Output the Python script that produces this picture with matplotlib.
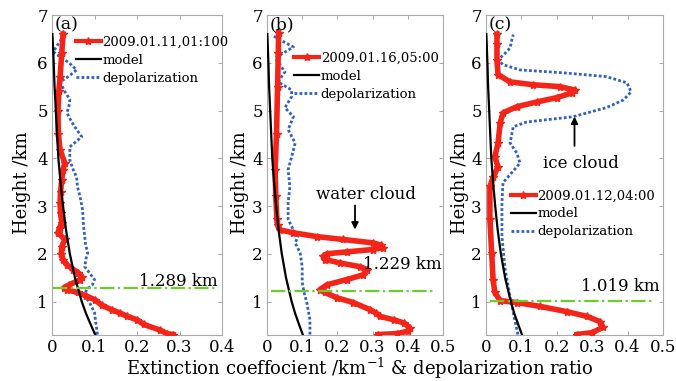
import matplotlib
matplotlib.use("Agg")
import matplotlib.pyplot as plt

plt.rcParams['font.family'] = ['DejaVu Serif']
plt.rcParams['mathtext.fontset'] = 'dejavuserif'

# ---------------- data ----------------
model_h = [0.3, 0.5, 0.75, 1.0, 1.5, 2.0, 2.5, 3.0, 3.5, 4.0, 4.5, 5.0, 5.5, 6.0, 6.6]
model_v = [0.102, 0.092, 0.080, 0.070, 0.054, 0.042, 0.033, 0.026, 0.020, 0.015, 0.012,
           0.009, 0.006, 0.004, 0.001]

# panel (a)
a_red_h = [0.31, 0.33, 0.40, 0.52, 0.62, 0.69, 0.76, 0.83, 0.92, 1.04, 1.12, 1.19, 1.25,
           1.29, 1.35, 1.45, 1.52, 1.60, 1.67, 1.77, 1.88, 2.00, 2.15, 2.30, 2.44, 2.55,
           2.65, 2.85, 3.07, 3.30, 3.55, 3.76, 3.90, 4.18, 4.50, 5.00, 5.40, 5.70, 6.20, 6.60]
a_red_v = [0.285, 0.27, 0.255, 0.216, 0.200, 0.177, 0.160, 0.140, 0.118, 0.100, 0.080, 0.060,
           0.035, 0.028, 0.040, 0.065, 0.070, 0.062, 0.050, 0.035, 0.026, 0.022, 0.023, 0.030,
           0.014, 0.018, 0.023, 0.020, 0.019, 0.020, 0.023, 0.026, 0.030, 0.019, 0.015, 0.014,
           0.016, 0.019, 0.023, 0.026]
a_dep_h = [0.31, 0.50, 0.77, 0.95, 1.13, 1.25, 1.35, 1.46, 1.60, 1.73, 1.90, 2.02, 2.20, 2.36,
           2.60, 2.92, 3.20, 3.40, 3.60, 3.76, 3.96, 4.24, 4.45, 4.60, 4.75, 4.95, 5.10, 5.23,
           5.40, 5.60, 5.72, 5.85, 6.00, 6.12, 6.23, 6.40, 6.59]
a_dep_v = [0.107, 0.104, 0.100, 0.090, 0.077, 0.081, 0.095, 0.100, 0.088, 0.077, 0.080, 0.084,
           0.079, 0.077, 0.074, 0.072, 0.066, 0.060, 0.058, 0.050, 0.042, 0.042, 0.070, 0.058,
           0.047, 0.035, 0.040, 0.042, 0.030, 0.019, 0.040, 0.058, 0.040, 0.020, 0.003, 0.015,
           0.030]
a_cloud_base = 1.289

# panel (b)
b_red_h = [0.31, 0.33, 0.38, 0.45, 0.55, 0.62, 0.69, 0.76, 0.83, 0.98, 1.08, 1.19, 1.25, 1.35,
           1.46, 1.56, 1.67, 1.73, 1.81, 1.88, 1.95, 2.00, 2.04, 2.09, 2.13, 2.18, 2.23, 2.30,
           2.36, 2.44, 2.50, 2.60, 2.72, 3.20, 3.76, 4.50, 5.50, 6.20, 6.63]
b_red_v = [0.315, 0.370, 0.400, 0.405, 0.390, 0.360, 0.320, 0.310, 0.293, 0.245, 0.198, 0.165,
           0.150, 0.170, 0.226, 0.273, 0.284, 0.264, 0.207, 0.165, 0.160, 0.170, 0.226, 0.300,
           0.330, 0.325, 0.300, 0.216, 0.142, 0.075, 0.037, 0.030, 0.028, 0.025, 0.023, 0.027,
           0.030, 0.032, 0.033]
b_dep_h = [0.31, 0.62, 0.98, 1.20, 1.40, 1.73, 2.02, 2.23, 2.36, 2.50, 2.72, 3.06, 3.41, 3.76,
           4.03, 4.32, 4.60, 4.87, 5.06, 5.29, 5.43, 5.60, 5.81, 6.10, 6.33, 6.48, 6.58]
b_dep_v = [0.122, 0.122, 0.113, 0.105, 0.100, 0.100, 0.094, 0.080, 0.088, 0.075, 0.060, 0.060,
           0.065, 0.060, 0.070, 0.080, 0.060, 0.075, 0.051, 0.070, 0.070, 0.031, 0.051, 0.023,
           0.075, 0.037, 0.014]
b_cloud_base = 1.229

# panel (c)
c_red_h = [0.31, 0.35, 0.46, 0.58, 0.69, 0.79, 0.90, 0.98, 1.02, 1.19, 1.46, 2.02, 2.72, 3.41,
           3.60, 3.82, 4.03, 4.32, 4.74, 4.95, 5.08, 5.18, 5.27, 5.37, 5.43, 5.50, 5.54, 5.60,
           5.75, 6.06, 6.40, 6.60]
c_red_v = [0.257, 0.300, 0.330, 0.322, 0.285, 0.228, 0.152, 0.087, 0.040, 0.025, 0.020, 0.016,
           0.011, 0.011, 0.020, 0.034, 0.025, 0.034, 0.040, 0.048, 0.087, 0.144, 0.200, 0.243,
           0.250, 0.209, 0.133, 0.068, 0.034, 0.031, 0.031, 0.031]
c_dep_h = [0.31, 0.77, 1.10, 1.67, 2.36, 3.07, 3.49, 3.70, 3.90, 4.11, 4.32, 4.66, 4.76, 4.87,
           5.06, 5.22, 5.39, 5.58, 5.71, 5.79, 5.85, 5.96, 6.06, 6.20, 6.31, 6.48, 6.59]
c_dep_v = [0.090, 0.077, 0.068, 0.054, 0.045, 0.045, 0.048, 0.073, 0.096, 0.087, 0.068, 0.077,
           0.115, 0.246, 0.340, 0.388, 0.410, 0.398, 0.340, 0.218, 0.096, 0.048, 0.034, 0.054,
           0.068, 0.073, 0.077]
c_cloud_base = 1.019

labels_red = ["2009.01.11,01:100", "2009.01.16,05:00", "2009.01.12,04:00"]
panel_tags = ["(a)", "(b)", "(c)"]
xmax = [0.4, 0.5, 0.5]
xticks = [[0, 0.1, 0.2, 0.3, 0.4], [0, 0.1, 0.2, 0.3, 0.4, 0.5], [0, 0.1, 0.2, 0.3, 0.4, 0.5]]
yticks = [1, 2, 3, 4, 5, 6, 7]

# ---------------- style ----------------
RED = '#f42418'
BLUE = '#2f5fc4'
GREEN = '#6ccc2a'

W, H = 676, 381
fig = plt.figure(figsize=(W / 100, H / 100), dpi=100)

boxes = [(52, 222), (267, 443), (486, 663)]
top_px, bot_px = 15, 335

reds = [(a_red_v, a_red_h), (b_red_v, b_red_h), (c_red_v, c_red_h)]
deps = [(a_dep_v, a_dep_h), (b_dep_v, b_dep_h), (c_dep_v, c_dep_h)]
bases = [a_cloud_base, b_cloud_base, c_cloud_base]
green_x = [(0.002, 0.39), (0.01, 0.48), (0.01, 0.47)]
leg_anchor = [(0.14, 0.935), (0.155, 0.885), (0.14, 0.455)]
base_text = [(0.39, 1.43), (0.497, 1.77), (0.49, 1.31)]
ylabel_x = [22, 240, 460]

for i in range(3):
    l, r = boxes[i]
    ax = fig.add_axes([l / W, 1 - bot_px / H, (r - l) / W, (bot_px - top_px) / H])
    rv, rh = reds[i]
    ax.plot(rv, rh, color=RED, lw=4.0, marker='*', ms=6, label=labels_red[i], zorder=3)
    ax.plot(model_v, model_h, color='black', lw=1.6, label='model', zorder=4)
    dv, dh = deps[i]
    ax.plot(dv, dh, color=BLUE, lw=2.0, ls=(0, (1, 0.8)), label='depolarization', zorder=2)
    ax.plot(green_x[i], [bases[i], bases[i]], color=GREEN, lw=1.6, ls='-.', zorder=5)

    ax.set_xlim(0, xmax[i])
    ax.set_ylim(0.3, 7)
    ax.set_xticks(xticks[i])
    ax.set_xticklabels(['0' if t == 0 else f'{t:.1f}' for t in xticks[i]])
    ax.set_yticks(yticks)
    ax.tick_params(direction='in', length=3, width=0.6, top=True, right=True,
                   labelsize=12, pad=3, colors='#999999', labelcolor='black')
    for sp in ax.spines.values():
        sp.set_color('#aaaaaa')
        sp.set_linewidth(0.8)

    ax.text(0.015, 0.995, panel_tags[i], transform=ax.transAxes, fontsize=12.5,
            ha='left', va='top')
    bx, by = base_text[i]
    ax.text(bx, by, f'{bases[i]:.3f} km', fontsize=12, ha='right', va='center')

    leg = ax.legend(loc='upper left', bbox_to_anchor=leg_anchor[i], frameon=False,
                    fontsize=9.5, handlelength=1.9, handletextpad=0.1,
                    labelspacing=0.38, borderpad=0, borderaxespad=0)
    leg.legend_handles[0].set_linewidth(3.0)

    fig.text(ylabel_x[i] / W, 1 - 183 / H, 'Height /km', rotation=90, fontsize=13,
             ha='center', va='center')

    if i == 1:
        ax.text(0.28, 3.24, 'water cloud', fontsize=12, ha='center', va='center')
        ax.annotate('', xy=(0.25, 2.45), xytext=(0.25, 3.07),
                    arrowprops=dict(arrowstyle='-|>', color='black', lw=1.3,
                                    mutation_scale=10))
    if i == 2:
        ax.text(0.268, 3.9, 'ice cloud', fontsize=12, ha='center', va='center')
        ax.annotate('', xy=(0.25, 4.93), xytext=(0.25, 4.2),
                    arrowprops=dict(arrowstyle='-|>', color='black', lw=1.3,
                                    mutation_scale=10))

fig.text(360 / W, 1 - 375 / H,
         'Extinction coeffocient /km$^{-1}$ & depolarization ratio',
         fontsize=13, ha='center', va='baseline')

fig.savefig('out.png', dpi=100)
